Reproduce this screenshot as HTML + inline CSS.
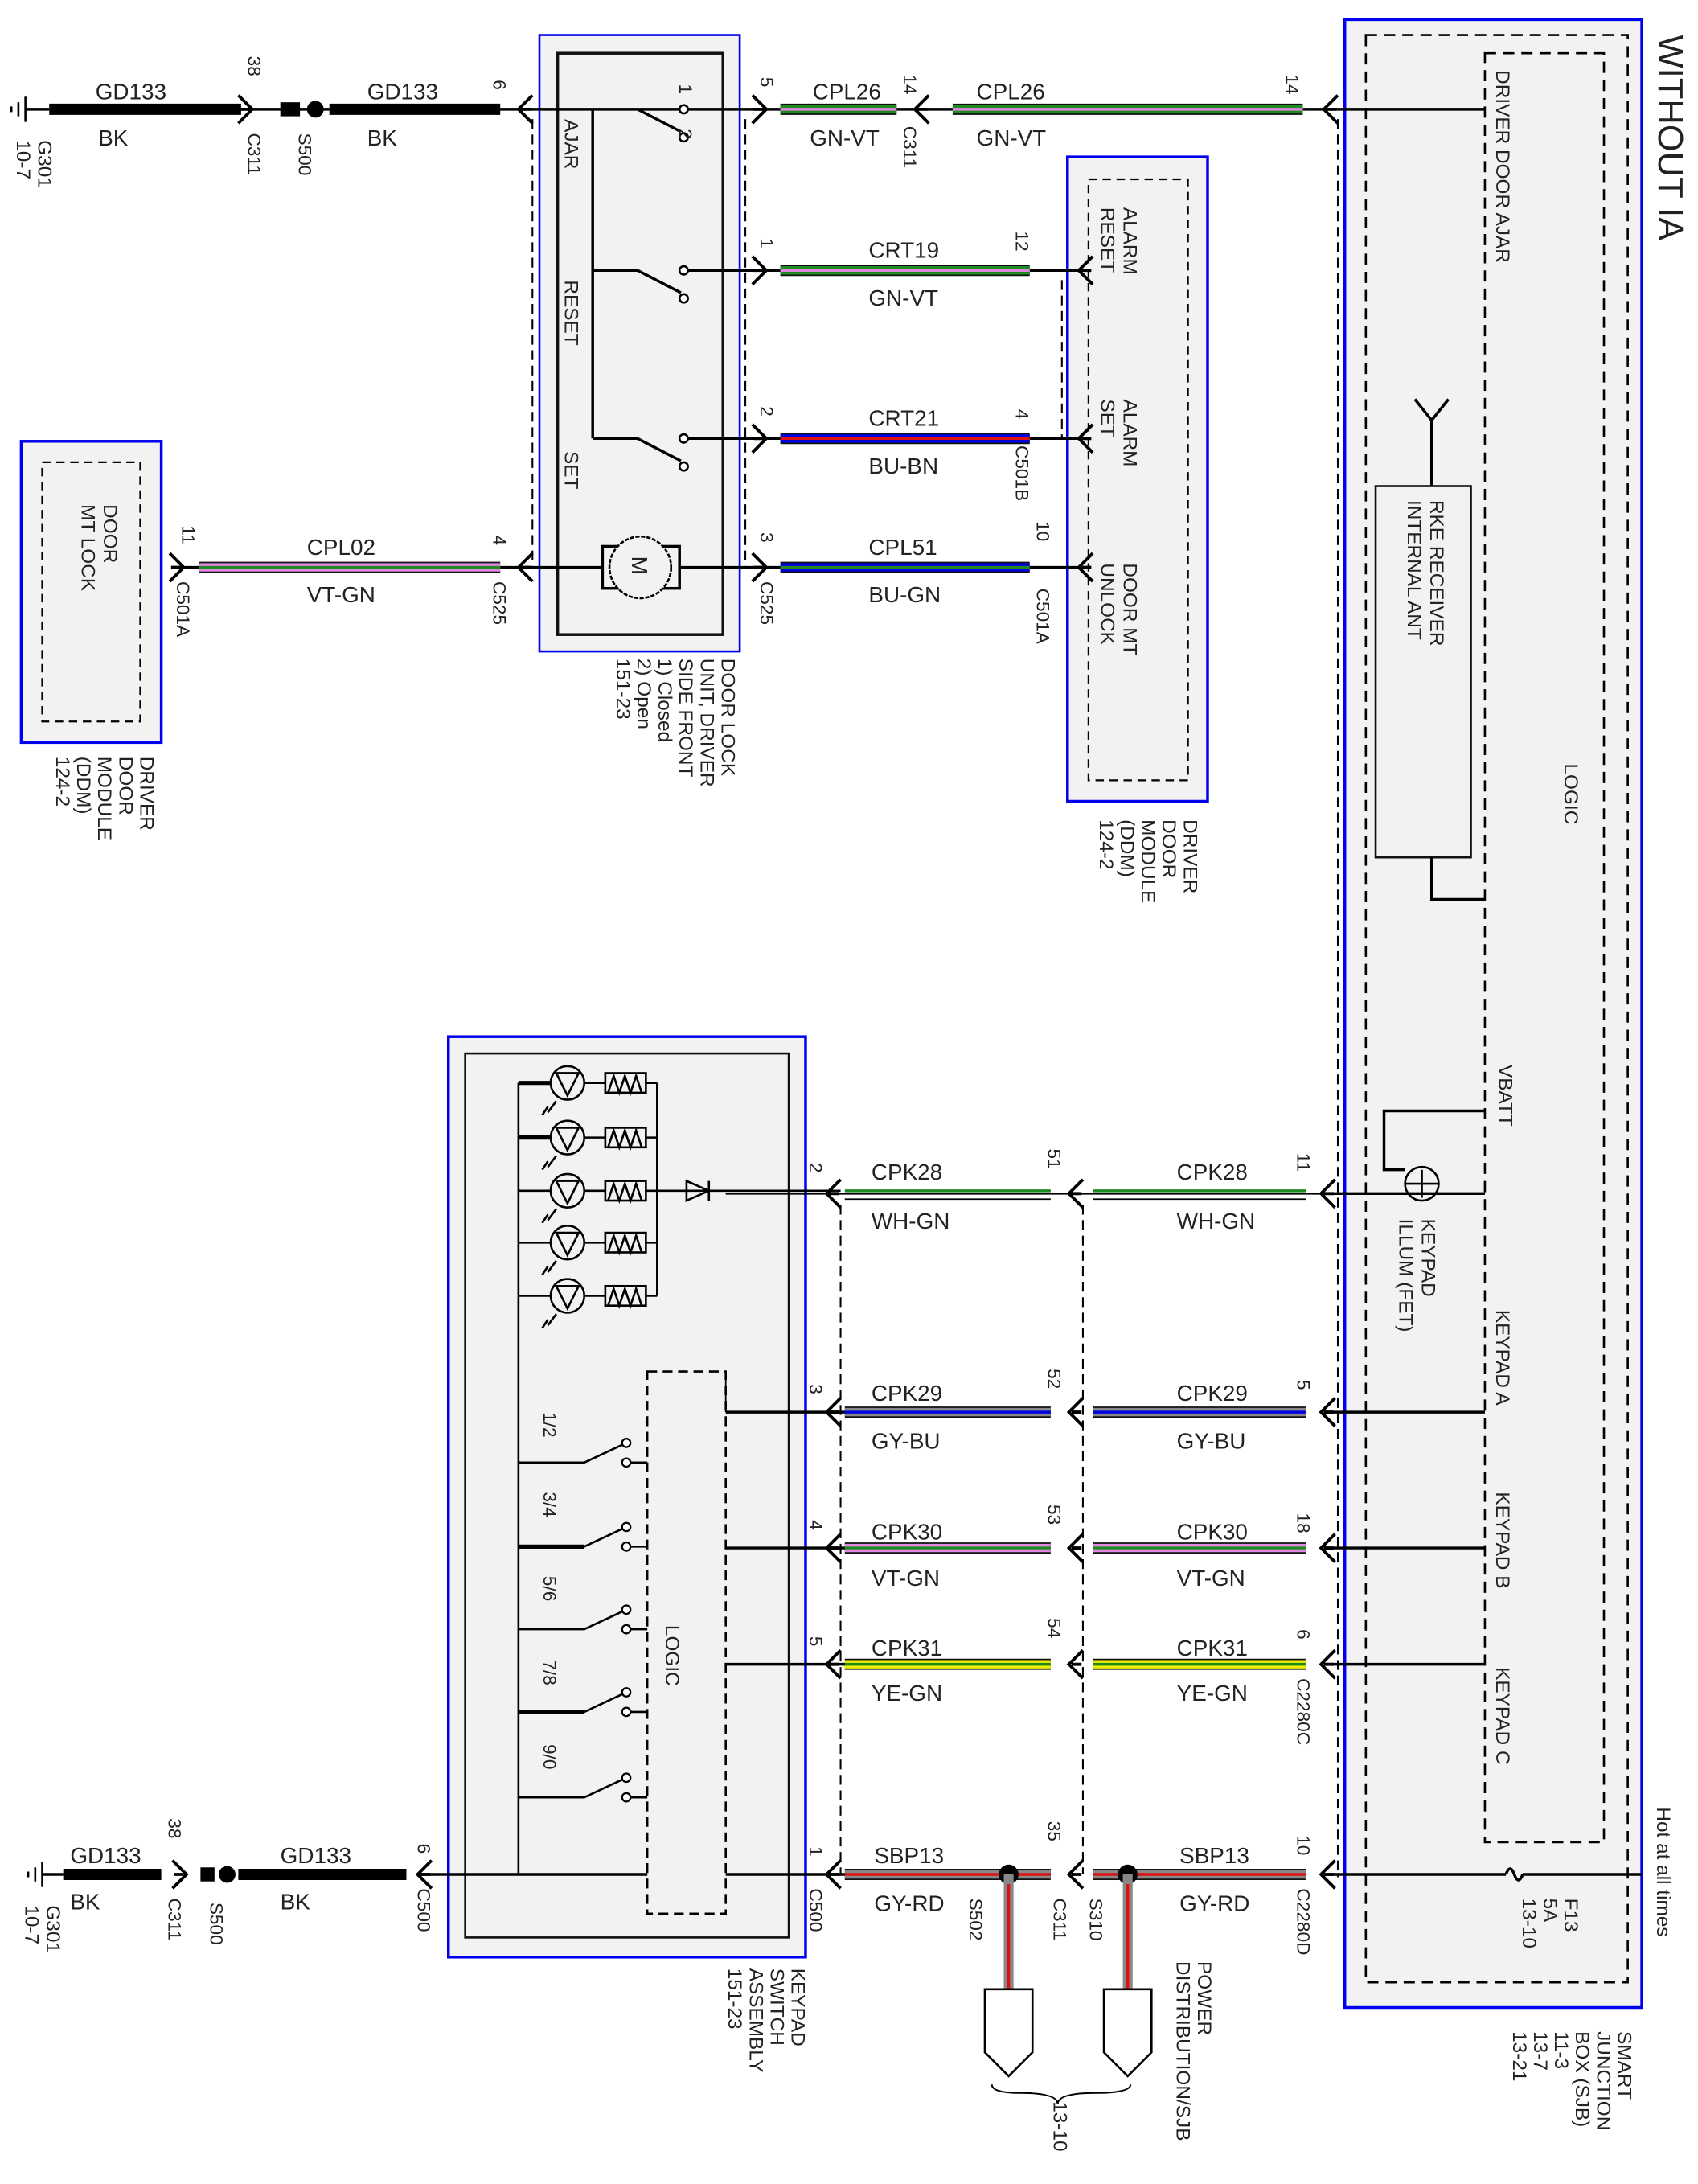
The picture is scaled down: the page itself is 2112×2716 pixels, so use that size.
<!DOCTYPE html>
<html><head><meta charset="utf-8"><style>
html,body{margin:0;padding:0;background:#fff}
svg{display:block}
text{font-family:"Liberation Sans",sans-serif;fill:#222}
.l{font-size:16px}
.r{font-size:14px}
.p{font-size:13px}
</style></head><body>
<svg width="2112" height="2716" viewBox="0 0 1212 1559" xmlns="http://www.w3.org/2000/svg">
<defs>
<path id="al" d="M10,-10 Q3,-3 0,0 Q3,3 10,10 M2,0 H9" fill="none" stroke="#000" stroke-width="2.2"/>
<path id="ar" d="M-10,-10 Q-3,-3 0,0 Q-3,3 -10,10 M-2,0 H-9" fill="none" stroke="#000" stroke-width="2.2"/>
<g id="gnd"><path d="M0,-9 V9 M-5,-5 V5 M-10,-2 V2" stroke="#000" stroke-width="1.5"/></g>
</defs>

<rect x="960" y="14" width="212" height="1419" fill="#f2f2f2" stroke="#0000ee" stroke-width="2"/>
<rect x="975" y="25" width="187" height="1390" fill="none" stroke="#000" stroke-width="1.5" stroke-dasharray="8,5"/>
<rect x="1060" y="38" width="85" height="1277" fill="none" stroke="#000" stroke-width="1.5" stroke-dasharray="8,5"/>
<rect x="385" y="25" width="143" height="440" fill="#f2f2f2" stroke="#0000ee" stroke-width="1.5"/>
<rect x="398" y="38" width="118" height="415" fill="none" stroke="#111" stroke-width="2"/>
<rect x="15" y="315" width="100" height="215" fill="#f2f2f2" stroke="#0000ee" stroke-width="2"/>
<rect x="30" y="330" width="70" height="185" fill="none" stroke="#000" stroke-width="1.3" stroke-dasharray="6,4"/>
<rect x="762" y="112" width="100" height="460" fill="#f2f2f2" stroke="#0000ee" stroke-width="2"/>
<rect x="777" y="128" width="71" height="429" fill="none" stroke="#000" stroke-width="1.3" stroke-dasharray="6,4"/>
<rect x="320" y="740" width="255" height="657" fill="#f2f2f2" stroke="#0000ee" stroke-width="2"/>
<rect x="332" y="752" width="231" height="631" fill="none" stroke="#111" stroke-width="1.5"/>
<rect x="982" y="347" width="68" height="265" fill="#f2f2f2" stroke="#111" stroke-width="1.5"/>

<g stroke="#000" stroke-width="1.2" stroke-dasharray="7,4" fill="none">
<path d="M380,85 V405 M532,85 V405 M758,200 V313 M955,85 V1340 M600,860 V1338 M773,860 V1338"/>
</g>

<g stroke="#000" stroke-width="2" fill="none">
<path d="M172,78 H1060 M423,78 V313 M423,193 H455 M488,193 H777 M423,313 H455 M488,313 H777 M125,405 H430 M485,405 H777"/>
<path d="M455,78 L486,94 M455,193 L486,209 M455,313 L486,329"/>
<path d="M1022,300 V347 M1022,612 V642 H1060 M1022,300 L1010,285 M1022,300 L1034,285"/>
<path d="M945,852 H1060 M1060,793 H988 V835 H1003 M945,1008 H1060 M945,1105 H1060 M945,1188 H1060 M945,1338 H1075 M1087,1338 H1172"/>
</g>
<g fill="#fff" stroke="#000" stroke-width="1.5">
<circle cx="488" cy="78" r="3"/><circle cx="488" cy="98" r="3"/>
<circle cx="488" cy="193" r="3"/><circle cx="488" cy="213" r="3"/>
<circle cx="488" cy="313" r="3"/><circle cx="488" cy="333" r="3"/>
</g>
<rect x="430" y="390" width="55" height="30" fill="none" stroke="#000" stroke-width="2"/>
<circle cx="457" cy="405" r="22" fill="#f2f2f2" stroke="#000" stroke-width="1.5" stroke-dasharray="3,1"/>
<text class="l" transform="translate(451,397) rotate(90)">M</text>
<circle cx="1015" cy="845" r="12" fill="none" stroke="#000" stroke-width="1.5"/>
<path d="M1003,845 H1027 M1015,835 V855" stroke="#000" stroke-width="1.5"/>
<path d="M1075,1338 q3,-8 6,0 q3,8 6,0" fill="none" stroke="#000" stroke-width="2"/>

<g stroke="#000" stroke-width="8">
<path d="M35,78 H172 M235,78 H357 M45,1338 H115 M170,1338 H290"/>
</g>
<rect x="200" y="73" width="14" height="10" fill="#000"/><circle cx="225" cy="78" r="6" fill="#000"/>
<rect x="143" y="1333" width="10" height="10" fill="#000"/><circle cx="162" cy="1338" r="6" fill="#000"/>
<use href="#gnd" x="18" y="78"/><path d="M18,78 H35" stroke="#000" stroke-width="2"/>
<use href="#gnd" x="30" y="1338"/><path d="M30,1338 H45" stroke="#000" stroke-width="2"/>

<g stroke-width="8" stroke="#111">
<path d="M557,78 H640 M680,78 H930 M557,193 H735 M557,313 H735 M557,405 H735 M142,405 H357"/>
<path d="M603,1008 H750 M780,1008 H932 M603,1105 H750 M780,1105 H932 M603,1188 H750 M780,1188 H932 M603,1338 H750 M780,1338 H932"/>
</g>
<g stroke-width="6">
<path d="M557,78 H640 M680,78 H930 M557,193 H735" stroke="#1f8a1f"/>
<path d="M557,313 H735 M557,405 H735" stroke="#0000e0"/>
<path d="M142,405 H357 M603,1105 H750 M780,1105 H932" stroke="#e088e0"/>
<path d="M603,1008 H750 M780,1008 H932 M603,1338 H750 M780,1338 H932" stroke="#888"/>
<path d="M603,1188 H750 M780,1188 H932" stroke="#f0f000"/>
</g>
<g stroke-width="2">
<path d="M557,78 H640 M680,78 H930 M557,193 H735" stroke="#e088e0"/>
<path d="M557,313 H735" stroke="#e01010"/>
<path d="M557,405 H735 M142,405 H357 M603,1105 H750 M780,1105 H932 M603,1188 H750 M780,1188 H932" stroke="#1f8a1f"/>
<path d="M603,1008 H750 M780,1008 H932" stroke="#0000e0"/>
<path d="M603,1338 H750 M780,1338 H932" stroke="#e01010"/>
</g>
<path d="M518,852 H945" stroke="#000" stroke-width="1.5"/>
<path d="M603,850 H750 M780,850 H932" stroke="#1f8a1f" stroke-width="2"/>
<path d="M603,856 H750 M780,856 H932" stroke="#000" stroke-width="1"/>
<path d="M518,1008 H603 M518,1105 H603 M518,1188 H603 M518,1338 H603 M300,1338 H462" stroke="#000" stroke-width="2"/>
<path d="M518,979 V1008" stroke="#000" stroke-width="1"/>
<circle cx="720" cy="1338" r="7" fill="#000"/><circle cx="805" cy="1338" r="7" fill="#000"/>
<g stroke-width="7" stroke="#888"><path d="M720,1338 V1420 M805,1338 V1420"/></g>
<g stroke-width="2" stroke="#e01010"><path d="M720,1345 V1420 M805,1345 V1420"/></g>
<path d="M703,1420 H737 V1465 L720,1482 L703,1465 Z M788,1420 H822 V1465 L805,1482 L788,1465 Z" fill="#fff" stroke="#000" stroke-width="1.5"/>
<path d="M708,1488 q0,6 20,6 q27,0 27,8 q0,-8 27,-8 q25,0 25,-6" fill="none" stroke="#000" stroke-width="1.2"/>

<use href="#ar" x="180" y="78"/><use href="#al" x="370" y="78"/><use href="#ar" x="547" y="78"/><use href="#al" x="653" y="78"/><use href="#al" x="945" y="78"/>
<use href="#ar" x="547" y="193"/><use href="#al" x="770" y="193"/>
<use href="#ar" x="547" y="313"/><use href="#al" x="770" y="313"/>
<use href="#ar" x="131" y="405"/><use href="#al" x="370" y="405"/><use href="#ar" x="547" y="405"/><use href="#al" x="770" y="405"/>
<use href="#al" x="590" y="852"/><use href="#al" x="763" y="852"/><use href="#al" x="943" y="852"/>
<use href="#al" x="590" y="1008"/><use href="#al" x="763" y="1008"/><use href="#al" x="943" y="1008"/>
<use href="#al" x="590" y="1105"/><use href="#al" x="763" y="1105"/><use href="#al" x="943" y="1105"/>
<use href="#al" x="590" y="1188"/><use href="#al" x="763" y="1188"/><use href="#al" x="943" y="1188"/>
<use href="#al" x="590" y="1338"/><use href="#al" x="763" y="1338"/><use href="#al" x="943" y="1338"/>
<use href="#ar" x="133" y="1338"/><use href="#al" x="298" y="1338"/>

<g stroke="#000" stroke-width="1.5" fill="none">
<path d="M370,773 V1338 M469,773 V925"/>
<path d="M370,773 H393 M370,812 H393 M370,850 H393 M370,887 H393 M370,925 H393"/>
<path d="M417,773 H432 M417,812 H432 M417,850 H432 M417,887 H432 M417,925 H432"/>
<path d="M461,773 H469 M461,812 H469 M461,850 H469 M461,887 H469 M461,925 H469 M469,850 H600"/>
<rect x="432" y="766" width="29" height="14"/><rect x="432" y="805" width="29" height="14"/><rect x="432" y="843" width="29" height="14"/><rect x="432" y="880" width="29" height="14"/><rect x="432" y="918" width="29" height="14"/>
<path d="M434,780 l4,-12 4,12 4,-12 4,12 4,-12 4,12 M434,819 l4,-12 4,12 4,-12 4,12 4,-12 4,12 M434,857 l4,-12 4,12 4,-12 4,12 4,-12 4,12 M434,894 l4,-12 4,12 4,-12 4,12 4,-12 4,12 M434,932 l4,-12 4,12 4,-12 4,12 4,-12 4,12"/>
<circle cx="405" cy="773" r="12"/><circle cx="405" cy="812" r="12"/><circle cx="405" cy="850" r="12"/><circle cx="405" cy="887" r="12"/><circle cx="405" cy="925" r="12"/>
<path d="M397,766 L405,782 L413,766 Z M397,805 L405,821 L413,805 Z M397,843 L405,859 L413,843 Z M397,880 L405,896 L413,880 Z M397,918 L405,934 L413,918 Z"/>
<path d="M397,786 l-6,8 M391,790 l-4,6 M397,825 l-6,8 M391,829 l-4,6 M397,863 l-6,8 M391,867 l-4,6 M397,900 l-6,8 M391,904 l-4,6 M397,938 l-6,8 M391,942 l-4,6"/>
<path d="M490,843 L506,850 L490,857 Z M506,843 V857"/>
<path d="M370,1044 H417 L447,1030 M370,1104 H417 L447,1090 M370,1163 H417 L447,1149 M370,1222 H417 L447,1208 M370,1283 H417 L447,1269"/>
<path d="M447,1044 H462 M447,1104 H462 M447,1163 H462 M447,1222 H462 M447,1283 H462"/>
</g>
<path d="M370,1104 H417 M370,1222 H417 M370,773 H393 M370,812 H393" stroke="#000" stroke-width="3"/>
<g fill="#fff" stroke="#000" stroke-width="1.3">
<circle cx="447" cy="1030" r="3"/><circle cx="447" cy="1044" r="3"/><circle cx="447" cy="1090" r="3"/><circle cx="447" cy="1104" r="3"/><circle cx="447" cy="1149" r="3"/><circle cx="447" cy="1163" r="3"/><circle cx="447" cy="1208" r="3"/><circle cx="447" cy="1222" r="3"/><circle cx="447" cy="1269" r="3"/><circle cx="447" cy="1283" r="3"/>
</g>
<rect x="462" y="979" width="56" height="387" fill="none" stroke="#000" stroke-width="1.5" stroke-dasharray="7,4"/>

<g class="l">
<text x="68" y="71">GD133</text><text x="70" y="104">BK</text>
<text x="262" y="71">GD133</text><text x="262" y="104">BK</text>
<text x="580" y="71">CPL26</text><text x="578" y="104">GN-VT</text>
<text x="697" y="71">CPL26</text><text x="697" y="104">GN-VT</text>
<text x="620" y="184">CRT19</text><text x="620" y="218">GN-VT</text>
<text x="620" y="304">CRT21</text><text x="620" y="338">BU-BN</text>
<text x="620" y="396">CPL51</text><text x="620" y="430">BU-GN</text>
<text x="219" y="396">CPL02</text><text x="219" y="430">VT-GN</text>
<text x="622" y="842">CPK28</text><text x="622" y="877">WH-GN</text>
<text x="840" y="842">CPK28</text><text x="840" y="877">WH-GN</text>
<text x="622" y="1000">CPK29</text><text x="622" y="1034">GY-BU</text>
<text x="840" y="1000">CPK29</text><text x="840" y="1034">GY-BU</text>
<text x="622" y="1099">CPK30</text><text x="622" y="1132">VT-GN</text>
<text x="840" y="1099">CPK30</text><text x="840" y="1132">VT-GN</text>
<text x="622" y="1182">CPK31</text><text x="622" y="1214">YE-GN</text>
<text x="840" y="1182">CPK31</text><text x="840" y="1214">YE-GN</text>
<text x="624" y="1330">SBP13</text><text x="624" y="1364">GY-RD</text>
<text x="842" y="1330">SBP13</text><text x="842" y="1364">GY-RD</text>
<text x="50" y="1330">GD133</text><text x="50" y="1363">BK</text>
<text x="200" y="1330">GD133</text><text x="200" y="1363">BK</text>
</g>

<g class="r">
<text transform="translate(1184,25) rotate(90)" style="font-size:25px">WITHOUT IA</text>
<text transform="translate(1068,50) rotate(90)">DRIVER DOOR AJAR</text>
<text transform="translate(1117,545) rotate(90)">LOGIC</text>
<text transform="translate(1021,357) rotate(90)">RKE RECEIVER</text>
<text transform="translate(1005,357) rotate(90)">INTERNAL ANT</text>
<text transform="translate(1070,760) rotate(90)">VBATT</text>
<text transform="translate(1015,870) rotate(90)">KEYPAD</text>
<text transform="translate(999,870) rotate(90)">ILLUM (FET)</text>
<text transform="translate(1068,935) rotate(90)">KEYPAD A</text>
<text transform="translate(1068,1065) rotate(90)">KEYPAD B</text>
<text transform="translate(1068,1190) rotate(90)">KEYPAD C</text>
<text transform="translate(1183,1290) rotate(90)">Hot at all times</text>
<text transform="translate(1117,1355) rotate(90)">F13</text>
<text transform="translate(1102,1355) rotate(90)">5A</text>
<text transform="translate(1087,1355) rotate(90)">13-10</text>
<text transform="translate(1155,1450) rotate(90)">SMART</text>
<text transform="translate(1140,1450) rotate(90)">JUNCTION</text>
<text transform="translate(1125,1450) rotate(90)">BOX (SJB)</text>
<text transform="translate(1110,1450) rotate(90)">11-3</text>
<text transform="translate(1095,1450) rotate(90)">13-7</text>
<text transform="translate(1080,1450) rotate(90)">13-21</text>
<text transform="translate(802,148) rotate(90)">ALARM</text>
<text transform="translate(786,148) rotate(90)">RESET</text>
<text transform="translate(802,285) rotate(90)">ALARM</text>
<text transform="translate(786,285) rotate(90)">SET</text>
<text transform="translate(802,402) rotate(90)">DOOR MT</text>
<text transform="translate(786,402) rotate(90)">UNLOCK</text>
<text transform="translate(845,585) rotate(90)">DRIVER</text>
<text transform="translate(830,585) rotate(90)">DOOR</text>
<text transform="translate(815,585) rotate(90)">MODULE</text>
<text transform="translate(800,585) rotate(90)">(DDM)</text>
<text transform="translate(785,585) rotate(90)">124-2</text>
<text transform="translate(74,360) rotate(90)">DOOR</text>
<text transform="translate(58,360) rotate(90)">MT LOCK</text>
<text transform="translate(100,540) rotate(90)">DRIVER</text>
<text transform="translate(85,540) rotate(90)">DOOR</text>
<text transform="translate(70,540) rotate(90)">MODULE</text>
<text transform="translate(55,540) rotate(90)">(DDM)</text>
<text transform="translate(40,540) rotate(90)">124-2</text>
<text transform="translate(403,85) rotate(90)">AJAR</text>
<text transform="translate(403,200) rotate(90)">RESET</text>
<text transform="translate(403,322) rotate(90)">SET</text>
<text transform="translate(515,470) rotate(90)">DOOR LOCK</text>
<text transform="translate(500,470) rotate(90)">UNIT, DRIVER</text>
<text transform="translate(485,470) rotate(90)">SIDE FRONT</text>
<text transform="translate(470,470) rotate(90)">1) Closed</text>
<text transform="translate(455,470) rotate(90)">2) Open</text>
<text transform="translate(440,470) rotate(90)">151-23</text>
<text transform="translate(475,1160) rotate(90)">LOGIC</text>
<text transform="translate(565,1405) rotate(90)">KEYPAD</text>
<text transform="translate(550,1405) rotate(90)">SWITCH</text>
<text transform="translate(535,1405) rotate(90)">ASSEMBLY</text>
<text transform="translate(520,1405) rotate(90)">151-23</text>
<text transform="translate(855,1400) rotate(90)">POWER</text>
<text transform="translate(840,1400) rotate(90)">DISTRIBUTION/SJB</text>
<text transform="translate(752,1500) rotate(90)">13-10</text>
<text transform="translate(27,100) rotate(90)">G301</text>
<text transform="translate(12,100) rotate(90)">10-7</text>
<text transform="translate(33,1360) rotate(90)">G301</text>
<text transform="translate(18,1360) rotate(90)">10-7</text>
</g>
<g class="p">
<text transform="translate(388,1008) rotate(90)">1/2</text>
<text transform="translate(388,1065) rotate(90)">3/4</text>
<text transform="translate(388,1125) rotate(90)">5/6</text>
<text transform="translate(388,1185) rotate(90)">7/8</text>
<text transform="translate(388,1245) rotate(90)">9/0</text>
<text transform="translate(177,40) rotate(90)">38</text>
<text transform="translate(177,95) rotate(90)">C311</text>
<text transform="translate(213,95) rotate(90)">S500</text>
<text transform="translate(352,57) rotate(90)">6</text>
<text transform="translate(485,60) rotate(90)">1</text>
<text transform="translate(485,92) rotate(90)">2</text>
<text transform="translate(543,55) rotate(90)">5</text>
<text transform="translate(645,53) rotate(90)">14</text>
<text transform="translate(645,90) rotate(90)">C311</text>
<text transform="translate(918,53) rotate(90)">14</text>
<text transform="translate(543,170) rotate(90)">1</text>
<text transform="translate(725,165) rotate(90)">12</text>
<text transform="translate(543,290) rotate(90)">2</text>
<text transform="translate(725,292) rotate(90)">4</text>
<text transform="translate(725,318) rotate(90)">C501B</text>
<text transform="translate(543,380) rotate(90)">3</text>
<text transform="translate(543,415) rotate(90)">C525</text>
<text transform="translate(740,372) rotate(90)">10</text>
<text transform="translate(740,420) rotate(90)">C501A</text>
<text transform="translate(352,382) rotate(90)">4</text>
<text transform="translate(352,415) rotate(90)">C525</text>
<text transform="translate(130,375) rotate(90)">11</text>
<text transform="translate(126,415) rotate(90)">C501A</text>
<text transform="translate(578,830) rotate(90)">2</text>
<text transform="translate(748,820) rotate(90)">51</text>
<text transform="translate(926,823) rotate(90)">11</text>
<text transform="translate(578,988) rotate(90)">3</text>
<text transform="translate(748,977) rotate(90)">52</text>
<text transform="translate(926,985) rotate(90)">5</text>
<text transform="translate(578,1085) rotate(90)">4</text>
<text transform="translate(748,1074) rotate(90)">53</text>
<text transform="translate(926,1080) rotate(90)">18</text>
<text transform="translate(578,1168) rotate(90)">5</text>
<text transform="translate(748,1155) rotate(90)">54</text>
<text transform="translate(926,1163) rotate(90)">6</text>
<text transform="translate(926,1198) rotate(90)">C2280C</text>
<text transform="translate(578,1318) rotate(90)">1</text>
<text transform="translate(578,1348) rotate(90)">C500</text>
<text transform="translate(748,1300) rotate(90)">35</text>
<text transform="translate(752,1355) rotate(90)">C311</text>
<text transform="translate(926,1310) rotate(90)">10</text>
<text transform="translate(926,1348) rotate(90)">C2280D</text>
<text transform="translate(692,1355) rotate(90)">S502</text>
<text transform="translate(778,1355) rotate(90)">S310</text>
<text transform="translate(120,1298) rotate(90)">38</text>
<text transform="translate(120,1355) rotate(90)">C311</text>
<text transform="translate(150,1358) rotate(90)">S500</text>
<text transform="translate(298,1316) rotate(90)">6</text>
<text transform="translate(298,1348) rotate(90)">C500</text>
</g>
</svg>
</body></html>
